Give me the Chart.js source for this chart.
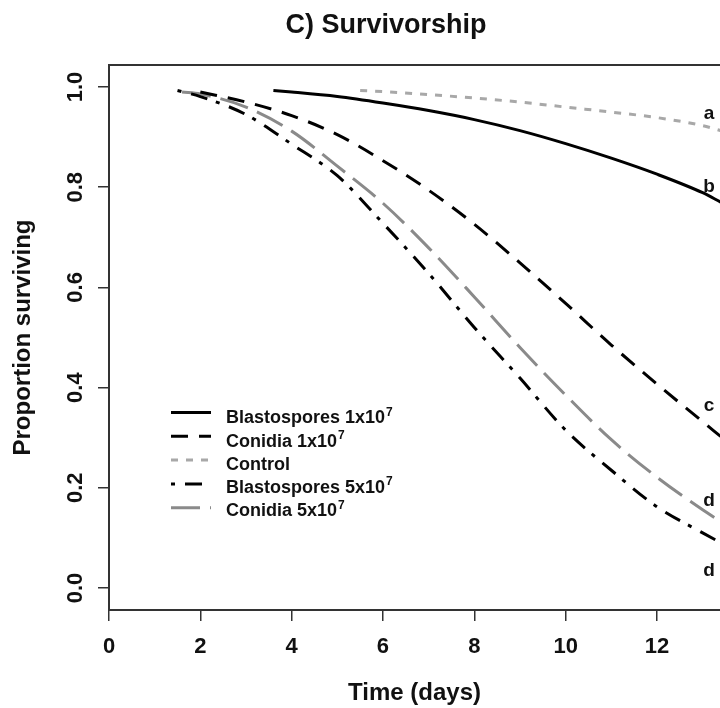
<!DOCTYPE html>
<html>
<head>
<meta charset="utf-8">
<script src="https://cdn.jsdelivr.net/npm/chart.js@4.4.1/dist/chart.umd.min.js"></script>
<style>
  html, body { margin: 0; padding: 0; background: #fff; }
</style>
</head>
<body>
<canvas id="survChart" width="720" height="708"></canvas>
<script>
// C) Survivorship - proportion of insects surviving over time, 5 treatments

const seriesNames = ["Blastospores 1x10⁷", "Conidia 1x10⁷", "Control", "Blastospores 5x10⁷", "Conidia 5x10⁷"];

// fitted survival curves
const blasto1Days = [3.6, 4, 5, 6, 7, 8, 9, 10, 11, 12, 13, 13.4];
const blasto1Surv = [0.993, 0.990, 0.981, 0.968, 0.953, 0.935, 0.913, 0.887, 0.858, 0.826, 0.789, 0.770];

const conidia1Days = [2, 3, 4, 5, 6, 7, 8, 9, 10, 11, 12, 13, 13.4];
const conidia1Surv = [0.990, 0.970, 0.943, 0.905, 0.853, 0.794, 0.726, 0.649, 0.568, 0.485, 0.407, 0.332, 0.302];

const controlDays = [5.5, 6, 7, 8, 9, 10, 11, 12, 13, 13.4];
const controlSurv = [0.993, 0.991, 0.985, 0.978, 0.970, 0.960, 0.950, 0.939, 0.923, 0.913];

const blasto5Days = [1.5, 2, 3, 4, 5, 6, 7, 8, 9, 10, 11, 12, 13, 13.4];
const blasto5Surv = [0.993, 0.981, 0.945, 0.886, 0.823, 0.728, 0.628, 0.520, 0.419, 0.315, 0.235, 0.162, 0.110, 0.090];

const conidia5Days = [1.6, 2, 3, 4, 5, 6, 7, 8, 9, 10, 11, 12, 13, 13.4];
const conidia5Surv = [0.990, 0.986, 0.960, 0.912, 0.842, 0.768, 0.679, 0.581, 0.480, 0.385, 0.296, 0.221, 0.156, 0.132];

const xTicks = [0, 2, 4, 6, 8, 10, 12];
const yTicks = [0, 0.2, 0.4, 0.6, 0.8, 1.0];

// significance letters at the right end of the curves
const groupLetters = ["a", "b", "c", "d", "d"];
const letterDay = 13.14;
const letterSurv = [0.937, 0.790, 0.353, 0.164, 0.024];

const toPoints = (days, surv) => days.map((d, i) => ({ x: d, y: surv[i] }));

const FONT = "'Liberation Sans', Arial, sans-serif";

// title, legend and letters drawn on top of the chart
const extrasPlugin = {
    id: "extras",
    afterDatasetsDraw(chart) {
        const ctx = chart.ctx;
        const xs = chart.scales.x, ys = chart.scales.y;
        ctx.save();

        // title
        ctx.fillStyle = "#111";
        ctx.font = "bold 27px " + FONT;
        ctx.textAlign = "center";
        ctx.textBaseline = "middle";
        ctx.fillText("C) Survivorship", 386, 26);

        // group letters
        ctx.font = "bold 19px " + FONT;
        ctx.textBaseline = "alphabetic";
        groupLetters.forEach((l, i) => {
            ctx.fillText(l, xs.getPixelForValue(letterDay), ys.getPixelForValue(letterSurv[i]));
        });

        // legend
        ctx.textAlign = "left";
        ctx.textBaseline = "middle";
        chart.data.datasets.forEach((ds, i) => {
            const ly = 412.5 + i * 23.8;
            const ty = 418.5 + i * 23.2;
            ctx.beginPath();
            ctx.setLineDash(ds.borderDash || []);
            ctx.strokeStyle = ds.borderColor;
            ctx.lineWidth = ds.borderWidth;
            ctx.moveTo(171, ly);
            ctx.lineTo(211, ly);
            ctx.stroke();
            ctx.setLineDash([]);
            ctx.fillStyle = "#111";
            // exponent drawn as a raised small 7
            const sup = ds.label.endsWith("⁷");
            const base = sup ? ds.label.slice(0, -1) : ds.label;
            ctx.font = "bold 18px " + FONT;
            ctx.fillText(base, 226, ty);
            if (sup) {
                const w = ctx.measureText(base).width;
                ctx.font = "bold 12px " + FONT;
                ctx.fillText("7", 226 + w + 1, ty - 6);
            }
        });
        ctx.restore();
    }
};

const axisGrid = { display: true, drawOnChartArea: false, drawTicks: true, tickLength: 11, color: "#333", lineWidth: 1.5 };
const axisBorder = { display: true, color: "#333", width: 2 };

const ctx = document.getElementById("survChart").getContext("2d");
const survChart = new Chart(ctx, {
    type: "line",
    data: {
        datasets: [
            { label: seriesNames[0], data: toPoints(blasto1Days, blasto1Surv), borderColor: "#000", borderWidth: 3, borderDash: [] },
            { label: seriesNames[1], data: toPoints(conidia1Days, conidia1Surv), borderColor: "#000", borderWidth: 3, borderDash: [17, 11] },
            { label: seriesNames[2], data: toPoints(controlDays, controlSurv), borderColor: "#a8a8a8", borderWidth: 3, borderDash: [7, 8] },
            { label: seriesNames[3], data: toPoints(blasto5Days, blasto5Surv), borderColor: "#000", borderWidth: 3, borderDash: [4, 10, 17, 9] },
            { label: seriesNames[4], data: toPoints(conidia5Days, conidia5Surv), borderColor: "#8a8a8a", borderWidth: 3, borderDash: [29, 10] }
        ]
    },
    options: {
        responsive: false,
        animation: false,
        layout: { padding: { top: 65, right: 0, bottom: 0, left: 0 } },
        elements: {
            point: { radius: 0 },
            line: { cubicInterpolationMode: "monotone", fill: false, borderCapStyle: "butt" }
        },
        plugins: {
            legend: { display: false },
            title: { display: false },
            tooltip: { enabled: false }
        },
        scales: {
            x: {
                type: "linear",
                min: 0,
                max: 13.38,
                afterBuildTicks: s => { s.ticks = xTicks.map(v => ({ value: v })); },
                afterFit: s => { s.height = 98; },
                grid: axisGrid,
                border: axisBorder,
                ticks: { color: "#111", font: { family: FONT, size: 22, weight: "bold" }, padding: 13, maxRotation: 0, autoSkip: false },
                title: { display: true, text: "Time (days)", color: "#111", font: { family: FONT, size: 24, weight: "bold" }, padding: { top: 0, bottom: 0 } }
            },
            x2: {
                type: "linear",
                position: "top",
                min: 0,
                max: 13.38,
                afterFit: s => { s.height = 0; },
                grid: { display: false },
                ticks: { display: false },
                border: axisBorder
            },
            y: {
                type: "linear",
                min: -0.044,
                max: 1.044,
                afterBuildTicks: s => { s.ticks = yTicks.map(v => ({ value: v })); },
                afterFit: s => { s.width = 109; },
                grid: axisGrid,
                border: axisBorder,
                ticks: {
                    color: "#111",
                    font: { family: FONT, size: 22, weight: "bold" },
                    minRotation: 90,
                    maxRotation: 90,
                    crossAlign: "center",
                    padding: 7,
                    callback: v => v.toFixed(1)
                },
                title: { display: true, text: "Proportion surviving", color: "#111", font: { family: FONT, size: 24, weight: "bold" }, padding: { top: 9, bottom: 0 } }
            }
        }
    },
    plugins: [extrasPlugin]
});
</script>
</body>
</html>
